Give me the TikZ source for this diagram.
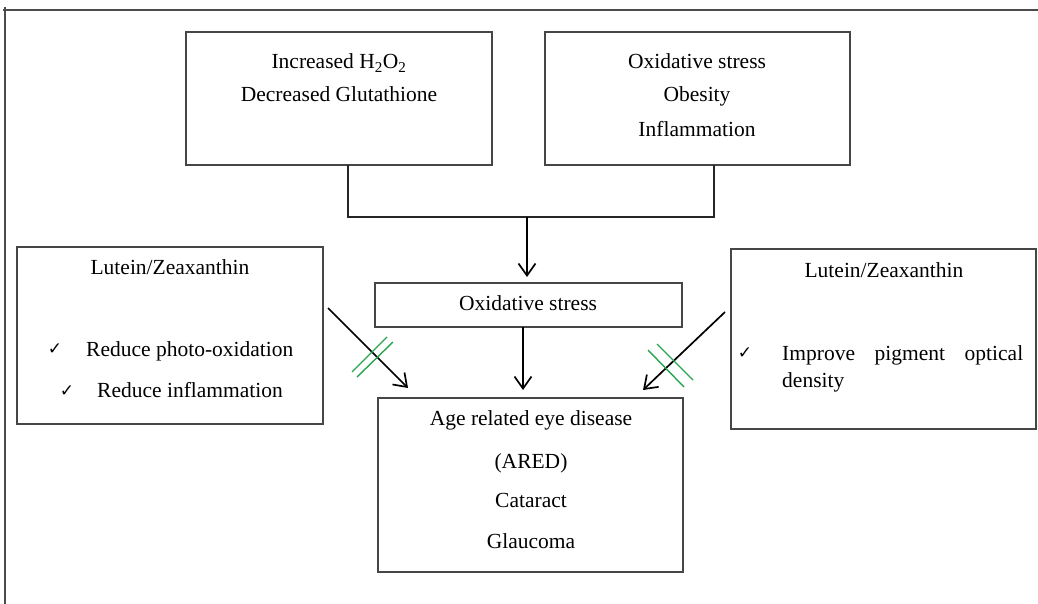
\documentclass[tikz,border=0pt]{standalone}
\usepackage{fontspec}
\setmainfont{Liberation Serif}
\newfontfamily\dejavu{DejaVu Sans}
\usetikzlibrary{arrows.meta}
\definecolor{boxgray}{RGB}{70,70,70}
\definecolor{tickgreen}{RGB}{40,165,80}
\tikzset{
  box/.style={draw=boxgray, line width=1.3pt, inner sep=0pt, outer sep=0pt},
  txt/.style={font=\fontsize{21.5}{25}\selectfont, inner sep=0pt, anchor=base},
  ltxt/.style={txt, anchor=base west},
  tick/.style={font=\dejavu\fontsize{17}{17}\selectfont, inner sep=0pt},
  arr/.style={line width=1.7pt, -{Straight Barb[length=12pt,width=17pt]}},
  conn/.style={line width=1.3pt, draw=black!85},
  cross/.style={draw=tickgreen, line width=1.4pt},
  frame/.style={line width=2.2pt, draw=black!70}
}
\begin{document}
\begin{tikzpicture}[x=1pt,y=-1pt]
\useasboundingbox (0,0) rectangle (1038,604);
% outer frame
\draw[frame] (5,604) -- (5,7);
\draw[frame] (3,10) -- (1038,10);
% boxes
\node[box, minimum width=306pt, minimum height=133pt] (A) at (339,98.5) {};
\node[box, minimum width=305pt, minimum height=133pt] (B) at (697.5,98.5) {};
\node[box, minimum width=306pt, minimum height=177pt] (L) at (170,335.5) {};
\node[box, minimum width=305pt, minimum height=180pt] (R) at (883.5,339) {};
\node[box, minimum width=307pt, minimum height=44pt] (O) at (528.5,305) {};
\node[box, minimum width=305pt, minimum height=174pt] (D) at (530.5,485) {};
% texts
\node[txt] (A1) at (339,69) {Increased H\textsubscript{2}O\textsubscript{2}};
\node[txt] (A2) at (339,102) {Decreased Glutathione};
\node[txt] (B1) at (697,69) {Oxidative stress};
\node[txt] (B2) at (697,102) {Obesity};
\node[txt] (B3) at (697,137) {Inflammation};
\node[txt] (O1) at (528,310) {Oxidative stress};
\node[txt] (D1) at (531,425) {Age related eye disease};
\node[txt] (D2) at (531,468) {(ARED)};
\node[txt] (D3) at (531,507) {Cataract};
\node[txt] (D4) at (531,548) {Glaucoma};
\node[txt] (L1) at (170,274) {Lutein/Zeaxanthin};
\node[tick] (Lc1) at (55,349) {✓};
\node[ltxt] (L2) at (86,356) {Reduce photo-oxidation};
\node[tick] (Lc2) at (67,391) {✓};
\node[ltxt] (L3) at (97,397) {Reduce inflammation};
\node[txt] (R1) at (884,277) {Lutein/Zeaxanthin};
\node[tick] (Rc1) at (745,353) {✓};
\node[ltxt] (R2) at (782,360) {\hbox to 241pt{Improve\hfill pigment\hfill optical}};
\node[ltxt] (R3) at (782,387) {density};
% connectors
\coordinate (ja) at (348,217);
\coordinate (jb) at (714,217);
\coordinate (jm) at (527,217);
\coordinate (ox) at (523,0);
\draw[conn] (A.south -| ja) -- (ja) -- (jb) -- (B.south -| jb);
\draw[arr, shorten >=6pt] (jm) -- (O.north -| jm);
\draw[arr, shorten >=8pt] (O.south -| ox) -- (D.north -| ox);
\coordinate (ls) at (328,308);
\coordinate (le) at (408,388);
\coordinate (rs) at (725,312);
\coordinate (re) at (643,390);
\draw[arr] (ls) -- (le);
\draw[arr] (rs) -- (re);
% green double strokes
\draw[cross] (352,372) -- (387,337);
\draw[cross] (357,377) -- (393,342);
\draw[cross] (648,350) -- (684,387);
\draw[cross] (657,344) -- (693,380);
\end{tikzpicture}
\end{document}
